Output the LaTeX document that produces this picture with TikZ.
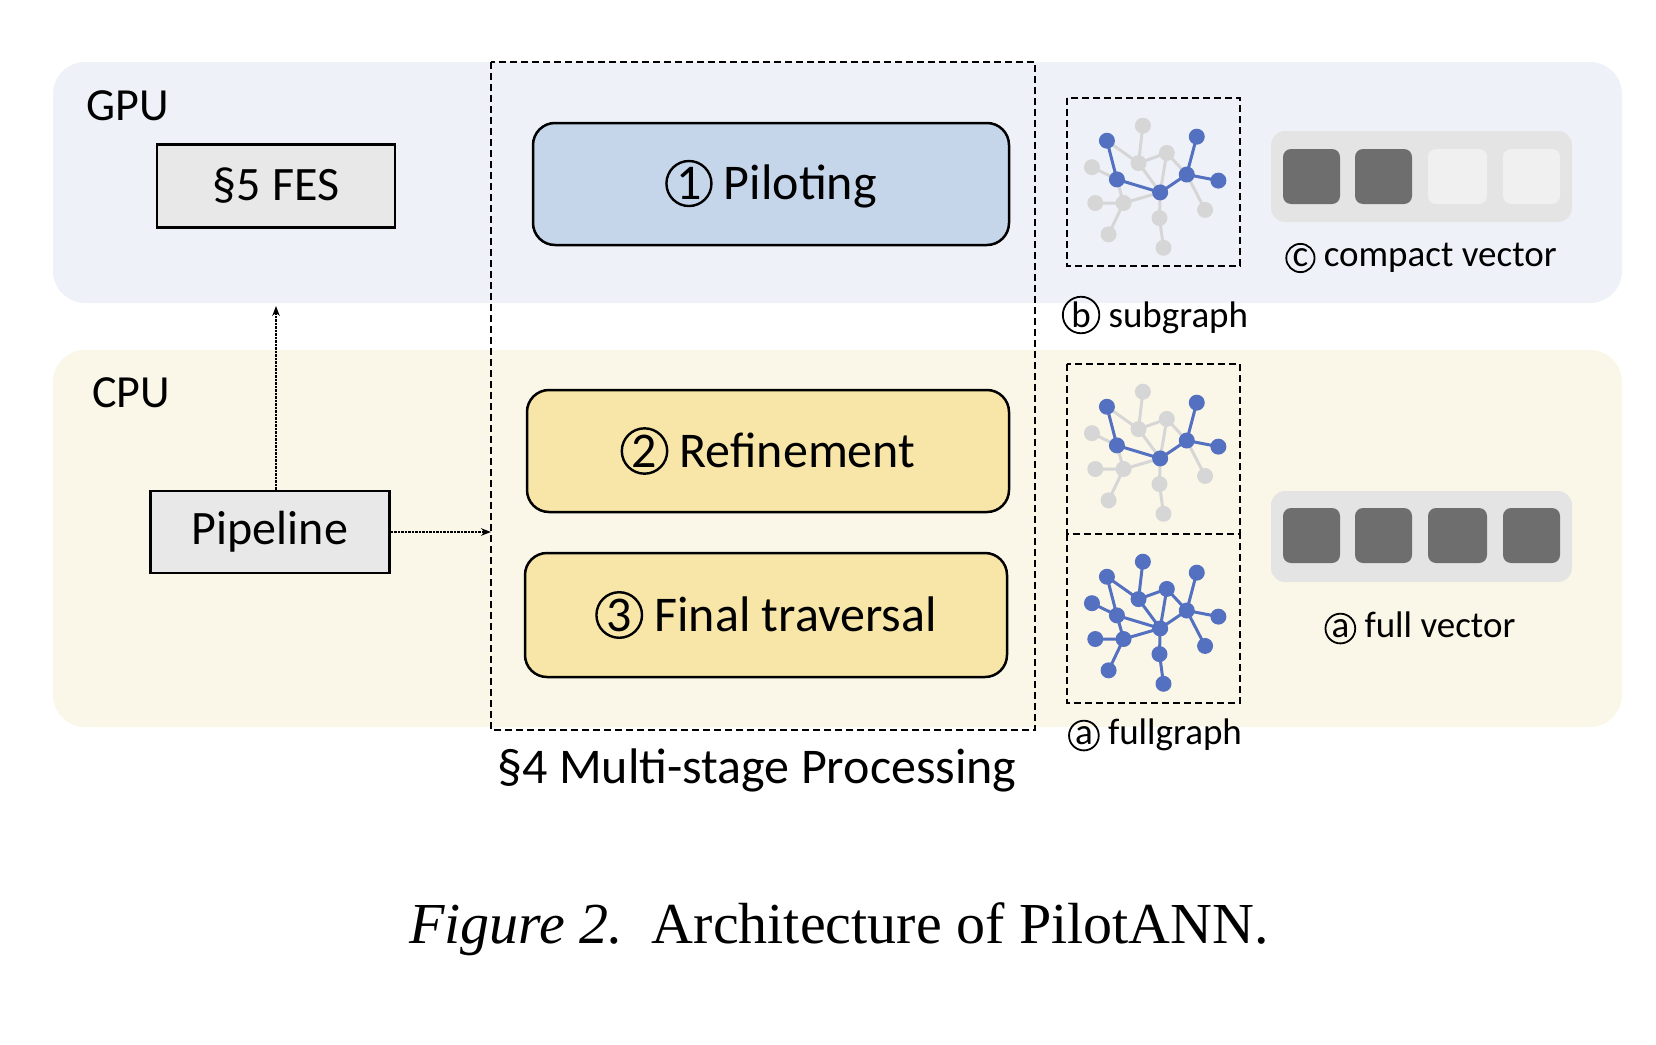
\documentclass[tikz,border=0pt]{standalone}
\usepackage{fontspec}
\setmainfont{Carlito}
\newfontfamily\capfont{Liberation Serif}
\usetikzlibrary{arrows.meta}
\definecolor{gpubg}{HTML}{EEF2F8}
\definecolor{cpubg}{HTML}{FBF7E8}
\definecolor{pilot}{HTML}{C5D5EA}
\definecolor{yel}{HTML}{F8E6A8}
\definecolor{boxg}{HTML}{E8E8E8}
\definecolor{gblue}{HTML}{5470C0}
\definecolor{ggray}{HTML}{D6D6D6}
\definecolor{vbg}{HTML}{E4E4E4}
\definecolor{vdark}{HTML}{6E6E6E}
\definecolor{vlight}{HTML}{F0F0F0}
\newcommand{\cnum}[2][2.4pt]{\tikz[baseline=(c.base)]\node[circle,draw,fill=none,line width=#1,inner sep=1.5pt,minimum width=0pt,minimum height=0pt,rounded corners=0pt](c){#2};}
\tikzset{
  stage/.style={draw,line width=2.5pt,rounded corners=22pt,font=\fontsize{50}{54}\selectfont},
  gbox/.style={draw,line width=2.5pt,fill=boxg,font=\fontsize{48}{52}\selectfont},
  lbl/.style={font=\fontsize{37}{40}\selectfont},
  dbox/.style={draw,line width=2pt,dash pattern=on 7pt off 4pt},
  cell/.style={rounded corners=8pt},
}
\newcommand{\drawgraph}[3]{%
\begin{scope}[shift={(#1,#2)},x=0.3327pt,y=-0.407pt]
 \coordinate (A) at (120,105); \coordinate (B) at (150,200); \coordinate (C) at (280,232);
 \coordinate (D) at (360,188); \coordinate (E) at (390,95); \coordinate (F) at (455,203);
 \coordinate (G) at (228,68); \coordinate (H) at (215,160); \coordinate (I) at (300,135);
 \coordinate (J) at (75,170); \coordinate (K) at (85,258); \coordinate (L) at (170,258);
 \coordinate (M) at (278,295); \coordinate (N) at (125,335); \coordinate (O) at (290,368);
 \coordinate (P) at (415,275);
 \ifnum#3=1 \def\gc{gblue}\else\def\gc{ggray}\fi
 \draw[\gc,line width=3pt] (G)--(H) (A)--(H) (H)--(I) (H)--(C) (J)--(B) (I)--(C) (I)--(D)
   (D)--(P) (K)--(L) (L)--(B) (L)--(N) (L)--(C) (C)--(M) (M)--(O);
 \foreach \n in {G,H,I,J,K,L,M,N,O,P} \fill[\gc] (\n) circle (8pt);
 \draw[gblue,line width=3pt] (A)--(B)--(C)--(D)--(E) (D)--(F);
 \foreach \n in {A,B,C,D,E,F} \fill[gblue] (\n) circle (8pt);
\end{scope}}
\begin{document}
\begin{tikzpicture}[x=1pt,y=-1pt]
\useasboundingbox (0,0) rectangle (1656,1044);
\fill[gpubg,rounded corners=32pt] (53,62) rectangle (1622,303);
\fill[cpubg,rounded corners=32pt] (53,350) rectangle (1622,727);
\node[font=\fontsize{46}{50}\selectfont] (gpu) at (128,106) {GPU};
\node[font=\fontsize{46}{50}\selectfont] (cpu) at (131,393) {CPU};
\node[gbox,minimum width=238pt,minimum height=83pt] (fes) at (276,186) {§5 FES};
\node[gbox,minimum width=239pt,minimum height=82pt] (pipe) at (270,532) {Pipeline};
\draw[dbox] (491,62) rectangle (1035,730);
\coordinate (mleft) at (491,532);
\coordinate (gtop) at (276,306);
\draw[densely dotted,line width=2.5pt,-{Stealth[length=10pt]}] (pipe.north -| gtop) -- (gtop);
\draw[densely dotted,line width=2.5pt,-{Stealth[length=10pt]}] (pipe.east) -- (mleft);
\node[stage,fill=pilot,minimum width=476pt,minimum height=122pt] (s1) at (771,184) {\cnum{1} Piloting};
\node[stage,fill=yel,minimum width=482pt,minimum height=122pt] (s2) at (768,451) {\cnum{2} Refinement};
\node[stage,fill=yel,minimum width=482pt,minimum height=124pt] (s3) at (766,615) {\cnum{3} Final traversal};
\node[font=\fontsize{50}{54}\selectfont] (ms) at (757,770) {§4 Multi-stage Processing};
\draw[dbox] (1067,98) rectangle (1240,266);
\drawgraph{1067}{98}{0}
\draw[dbox] (1067,364) rectangle (1240,534);
\drawgraph{1067}{364}{0}
\draw[dbox] (1067,534) rectangle (1240,703);
\drawgraph{1067}{534}{1}
\node[lbl] (sg) at (1155,315) {\cnum[1.8pt]{b} subgraph};
\node[lbl] (fg) at (1155,735) {\cnum[1.8pt]{a} fullgraph};
\fill[vbg,rounded corners=14pt] (1271,131) rectangle (1572,222);
\fill[cell,vdark] (1283,149) rectangle (1340,204);
\fill[cell,vdark] (1355,149) rectangle (1412,204);
\fill[cell,vlight] (1428,149) rectangle (1487,204);
\fill[cell,vlight] (1503,149) rectangle (1560,204);
\fill[vbg,rounded corners=14pt] (1271,491) rectangle (1572,582);
\fill[cell,vdark] (1283,508) rectangle (1340,563);
\fill[cell,vdark] (1355,508) rectangle (1412,563);
\fill[cell,vdark] (1428,508) rectangle (1487,563);
\fill[cell,vdark] (1503,508) rectangle (1560,563);
\node[lbl] (cv) at (1421,258) {\cnum[1.8pt]{c} compact vector};
\node[lbl] (fv) at (1420,628) {\cnum[1.8pt]{a} full vector};
\node[font=\capfont\fontsize{58}{62}\selectfont] (cap) at (839,929) {\textit{Figure 2.}\ \ Architecture of PilotANN.};
\end{tikzpicture}
\end{document}
